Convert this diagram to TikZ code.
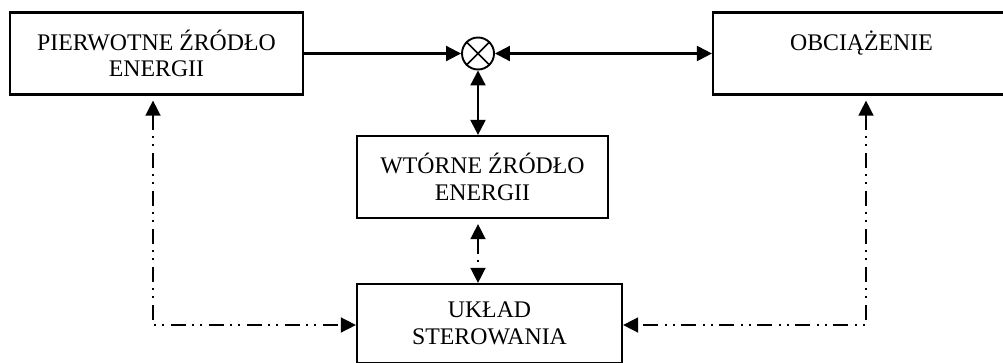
\documentclass[tikz,border=0pt]{standalone}
\usepackage{fontspec}
\setmainfont{Liberation Serif}
\usetikzlibrary{arrows.meta}
\begin{document}
\begin{tikzpicture}[x=1pt,y=-1pt,
  blk/.style={draw,line width=2.2pt,inner sep=0pt,align=center,
    font=\fontsize{23.8pt}{26.5pt}\selectfont},
  sol/.style={line width=2.1pt},
  dd/.style={line width=1.5pt,dash pattern=on 15pt off 6pt on 2pt off 6pt on 2pt off 7pt},
  tip/.style={{Triangle[length=15pt,width=15pt]}-{Triangle[length=15pt,width=15pt]}},
  tipend/.style={-{Triangle[length=15pt,width=15pt]}}
]
\useasboundingbox (0,0) rectangle (1003,362);
\node[blk,minimum width=293pt,minimum height=82pt] (P) at (156.5,53.5) {PIERWOTNE ŹRÓDŁO\\ENERGII};
\node[blk,minimum width=297pt,minimum height=82pt] (O) at (861.5,53.5) {OBCIĄŻENIE\\\mbox{}};
\node[blk,minimum width=251pt,minimum height=82pt] (W) at (482.5,177) {WTÓRNE ŹRÓDŁO\\ENERGII};
\node[blk,minimum width=265pt,minimum height=79pt] (U) at (489.5,323.5) {UKŁAD\\STEROWANIA};
\node[draw,circle,line width=1.9pt,minimum size=32pt,inner sep=0pt] (c) at (478,53.5) {};
\draw[line width=1.5pt] (c.north west) -- (c.south east) (c.north east) -- (c.south west);
\coordinate (pl) at (153,325);
\coordinate (pr) at (866,325);
\draw[sol,tipend] (P.east) -- (c.west);
\draw[sol,tip] (c.east) -- (O.west);
\draw[sol,tip] (c.south) -- (c.south |- W.north);
\draw[dd,tip,shorten <=5pt] (c |- W.south) -- (c |- U.north);
\draw[dd,tip,shorten <=5pt] (pl |- P.south) -- (pl) -- (pl -| U.west);
\draw[dd,tip,shorten <=5pt] (pr |- O.south) -- (pr) -- (pr -| U.east);
\end{tikzpicture}
\end{document}
